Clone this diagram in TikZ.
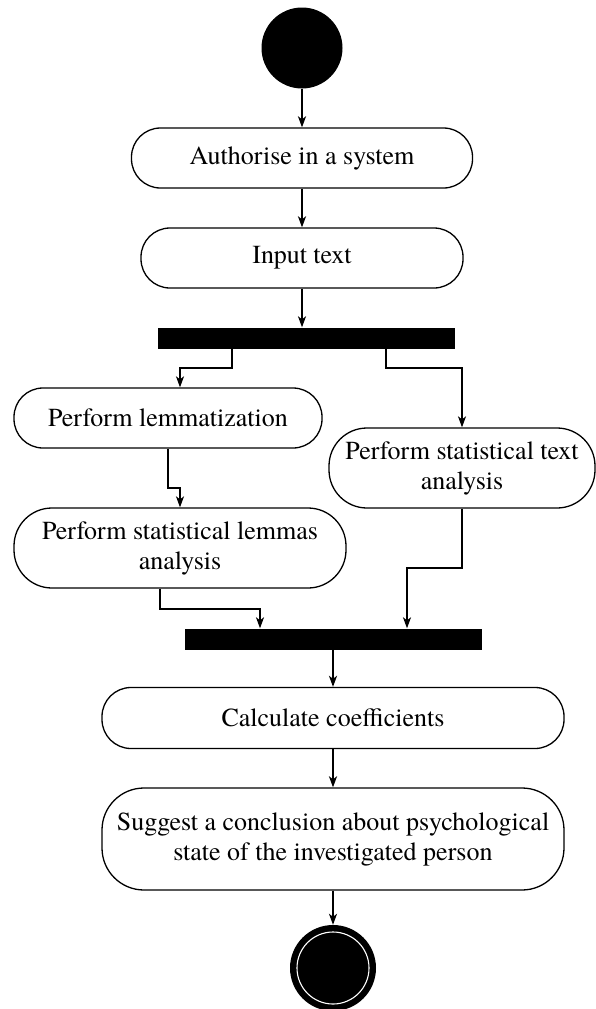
\documentclass[tikz,border=0pt]{standalone}
\usepackage{fontspec}
\setmainfont{texgyretermes-regular.otf}
\usetikzlibrary{arrows.meta}
\begin{document}
\begin{tikzpicture}[x=1pt, y=-1pt,
    activity/.style={draw, line width=1.3pt, fill=white, rounded corners=29pt,
        inner sep=0pt, align=center, font=\fontsize{26}{30}\selectfont},
    bar/.style={fill=black, inner sep=0pt, minimum height=21pt},
    flow/.style={-{Stealth[length=11pt,width=8pt,inset=3pt]}, line width=1.4pt},
    thickflow/.style={flow, line width=2.6pt}]
    % the frame
    \useasboundingbox (0,0) rectangle (595,1009);

    % start and end
    \node[circle, fill=black, minimum size=81pt, inner sep=0pt] (start) at (302,48) {};
    \node[circle, fill=black, minimum size=86pt, inner sep=0pt] (stop) at (333,968) {};
    \draw[white, line width=1.1pt] (stop.center) circle (36);

    % the activities
    \node[activity, minimum width=341pt, minimum height=60pt] (auth) at (302,158) {Authorise in a system};
    \node[activity, minimum width=322pt, minimum height=60pt] (input) at (302,258) {Input text};
    \node[activity, minimum width=308pt, minimum height=60pt] (lemm) at (168,418) {Perform lemmatization};
    \node[activity, minimum width=266pt, minimum height=80pt, rounded corners=38pt] (stat) at (462,468)
        {Perform statistical text\\analysis};
    \node[activity, minimum width=332pt, minimum height=80pt, rounded corners=38pt] (lemmas) at (180,548)
        {Perform statistical lemmas\\analysis};
    \node[activity, minimum width=462pt, minimum height=61pt] (calc) at (333,718) {Calculate coefficients};
    \node[activity, minimum width=462pt, minimum height=102pt, rounded corners=42pt] (suggest) at (333,839)
        {Suggest a conclusion about psychological\\state of the investigated person};

    % fork and join
    \node[bar, minimum width=297pt] (fork) at (306,338) {};
    \node[bar, minimum width=297pt] (join) at (333,639) {};

    % bends
    \coordinate (fl) at (232,368);
    \coordinate (fla) at (180,368);
    \coordinate (fr) at (386,368);
    \coordinate (ll) at (180,488);
    \coordinate (jl0) at (160,609);
    \coordinate (jl) at (260,609);
    \coordinate (jr) at (407,568);

    % the flow
    \draw[thickflow] (start) -- (auth);
    \draw[thickflow] (auth) -- (input);
    \draw[flow] (input.south) -- (input.south |- fork.north);
    \draw[flow] (fork.south -| fl) -- (fl) -- (fla) -- (fla |- lemm.north);
    \draw[flow] (fork.south -| fr) |- (stat.north |- fr) -- (stat.north);
    \draw[flow] (lemm.south) -- (lemm.south |- ll) -- (ll) -- (lemmas.north);
    \draw[flow] (lemmas.south -| jl0) -- (jl0) -- (jl) -- (jl |- join.north);
    \draw[flow] (stat.south) |- (jr) -- (jr |- join.north);
    \draw[thickflow] (join.south -| calc.north) -- (calc.north);
    \draw[thickflow] (calc) -- (suggest);
    \draw[flow] (suggest) -- (stop);
\end{tikzpicture}
\end{document}
